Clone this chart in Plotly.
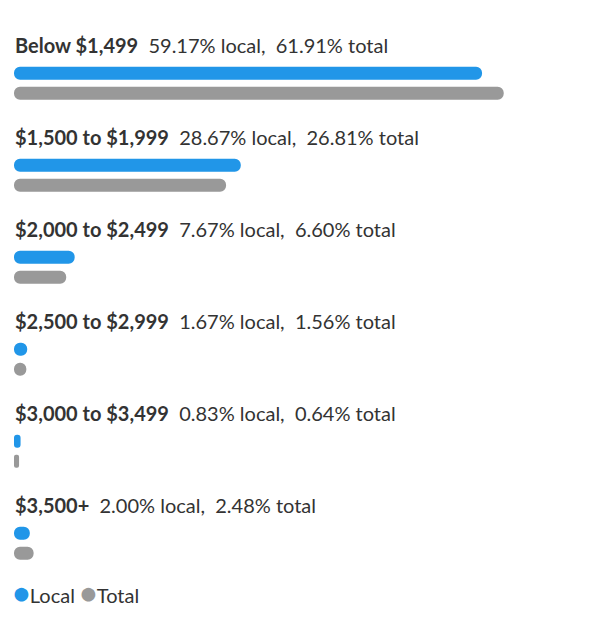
import plotly.graph_objects as go

# price buckets and shares (%)
categories = ["Below $1,499", "$1,500 to $1,999", "$2,000 to $2,499",
              "$2,500 to $2,999", "$3,000 to $3,499", "$3,500+"]
local = [59.17, 28.67, 7.67, 1.67, 0.83, 2.00]
total = [61.91, 26.81, 6.60, 1.56, 0.64, 2.48]

BLUE = "#2196e8"
GRAY = "#999999"
TEXT = "#333333"

idx = list(range(len(categories)))
fig = go.Figure()

# drawn from the value back to 0 (base set) so both ends get rounded
for vals, col, off in [(local, BLUE, 0.0), (total, GRAY, 0.217)]:
    fig.add_trace(go.Bar(
        y=[i + off for i in idx], x=[-v for v in vals], base=vals, orientation="h",
        width=0.141, marker=dict(color=col, cornerradius="50%", line_width=0),
        showlegend=False, hoverinfo="skip"))

for i, c in enumerate(categories):
    fig.add_annotation(
        x=0, y=i - 0.305, xref="x", yref="y", xanchor="left", yanchor="middle",
        xshift=-1,
        text="<b>%s</b>&nbsp;&nbsp;%.2f%% local,&nbsp;&nbsp;%.2f%% total" % (c, local[i], total[i]),
        showarrow=False, font=dict(size=20, color=TEXT, family="Lato"))

fig.add_annotation(
    x=0, y=1 - 584 / 613, xref="x", yref="paper", xanchor="left", yanchor="middle",
    xshift=-3,
    text="<span style='color:%s;font-size:28px'>●</span>Local&nbsp;"
         "<span style='color:%s;font-size:28px'>●</span>Total" % (BLUE, GRAY),
    showarrow=False, font=dict(size=20, color=TEXT, family="Lato"))

fig.update_layout(
    width=606, height=613, barmode="overlay",
    margin=dict(l=6, r=0, t=0, b=0),
    plot_bgcolor="white", paper_bgcolor="white",
    xaxis=dict(range=[0, 75.85], visible=False, fixedrange=True),
    yaxis=dict(range=[5.953, -0.710], visible=False, fixedrange=True),
    font=dict(family="Lato"),
)

fig.write_html("out.html")
